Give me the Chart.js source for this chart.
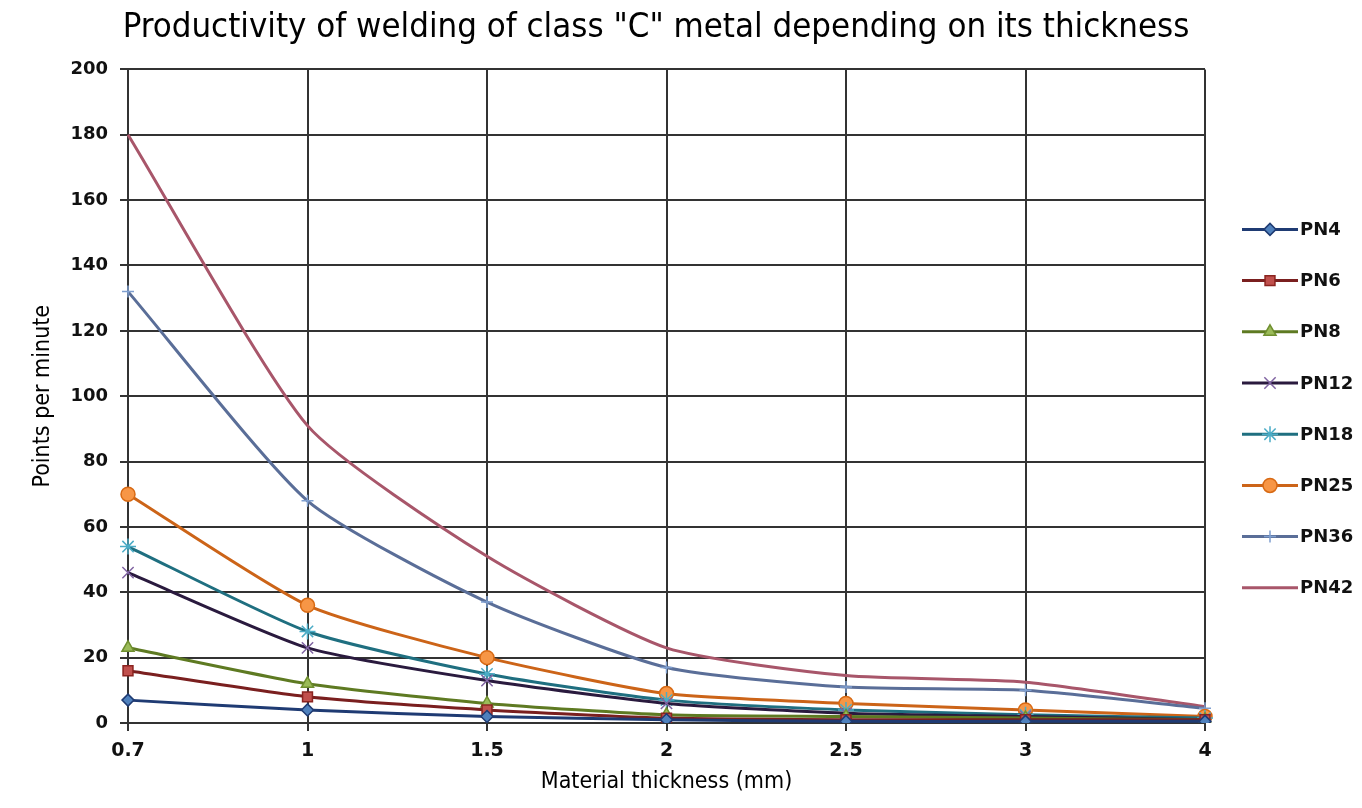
<!DOCTYPE html>
<html>
<head>
<meta charset="utf-8">
<script src="https://cdn.jsdelivr.net/npm/chart.js@4/dist/chart.umd.min.js"></script>
<style>
  html, body { margin: 0; padding: 0; background: #fff; }
  #wrap { width: 1362px; height: 808px; }
</style>
</head>
<body>
<div id="wrap"><canvas id="grafico" width="1362" height="808"></canvas></div>
<script>
const categorias = ['0.7', '1', '1.5', '2', '2.5', '3', '4'];
const pn4  = [7, 4, 2, 1, 0.5, 0.5, 0.5];
const pn6  = [16, 8, 4, 1.5, 1, 1, 1];
const pn8  = [23, 12, 6, 2.5, 2, 1.5, 1];
const pn12 = [46, 23, 13, 6, 3, 2, 1];
const pn18 = [54, 28, 15, 7, 4, 2.5, 1.5];
const pn25 = [70, 36, 20, 9, 6, 4, 2];
const pn36 = [132, 68, 37, 17, 11, 10, 4.5];
const pn42 = [180, 91, 51, 23, 14.5, 12.5, 5];
const yTicks = [0, 20, 40, 60, 80, 100, 120, 140, 160, 180, 200];

const series = [
  { label: 'PN4',  data: pn4,  line: '#1f3b73', fill: '#4f81bd', stroke: '#1f3b73', style: 'rectRot',  r: 6 },
  { label: 'PN6',  data: pn6,  line: '#7a1f1f', fill: '#c0504d', stroke: '#8b2420', style: 'rect',     r: 7 },
  { label: 'PN8',  data: pn8,  line: '#5e7a22', fill: '#9bbb59', stroke: '#6f8f2f', style: 'triangle', r: 7 },
  { label: 'PN12', data: pn12, line: '#2a1a3e', fill: '#8064a2', stroke: '#8064a2', style: 'crossRot', r: 8 },
  { label: 'PN18', data: pn18, line: '#1f6f80', fill: '#4bacc6', stroke: '#4bacc6', style: 'star',     r: 8 },
  { label: 'PN25', data: pn25, line: '#cc6418', fill: '#f79646', stroke: '#d86a14', style: 'circle',   r: 7 },
  { label: 'PN36', data: pn36, line: '#5a6e98', fill: '#7f9fcf', stroke: '#7f9fcf', style: 'cross',    r: 6 },
  { label: 'PN42', data: pn42, line: '#a8566a', fill: '#a8566a', stroke: '#a8566a', style: false,      r: 0 }
];

// legend drawn by hand: line segment + marker, like the original
const legendaLinha = {
  id: 'legendaLinha',
  afterDraw(chart) {
    const ctx = chart.ctx;
    const area = chart.chartArea;
    const x0 = area.right + 37;
    const y0 = area.top + 160;
    const passo = 51.2;
    ctx.save();
    chart.data.datasets.forEach((ds, i) => {
      const y = y0 + i * passo;
      ctx.strokeStyle = ds.borderColor;
      ctx.lineWidth = 3;
      ctx.beginPath();
      ctx.moveTo(x0, y);
      ctx.lineTo(x0 + 56, y);
      ctx.stroke();
      if (ds.pointStyle) {
        ctx.fillStyle = ds.pointBackgroundColor;
        ctx.strokeStyle = ds.pointBorderColor;
        ctx.lineWidth = 1.5;
        Chart.helpers.drawPoint(ctx, { pointStyle: ds.pointStyle, radius: ds.pointRadius, rotation: 0, borderWidth: 1.5 }, x0 + 28, y);
      }
      ctx.fillStyle = '#111';
      ctx.font = 'bold 18px "DejaVu Sans"';
      ctx.textBaseline = 'middle';
      ctx.textAlign = 'left';
      ctx.fillText(ds.label, x0 + 58, y + 1);
    });
    ctx.restore();
  }
};

function renderGrafico() {
  const ctx = document.getElementById('grafico');
  new Chart(ctx, {
    type: 'line',
    data: {
      labels: categorias,
      datasets: series.map(s => ({
        label: s.label,
        data: s.data,
        borderColor: s.line,
        borderWidth: 3,
        pointStyle: s.style,
        pointRadius: s.r,
        pointBackgroundColor: s.fill,
        pointBorderColor: s.stroke,
        pointBorderWidth: 1.5,
        tension: 0.2,
        fill: false
      }))
    },
    options: {
      responsive: false,
      animation: false,
      layout: { padding: { left: 0, right: 50, top: 0, bottom: 0 } },
      plugins: {
        legend: { display: false },
        tooltip: { enabled: false },
        title: {
          display: true,
          text: 'Productivity of welding of class "C" metal depending on its thickness',
          color: '#000',
          font: { family: '"DejaVu Sans Condensed"', size: 34.5, weight: 'normal', lineHeight: 1.2 },
          padding: { top: 7, bottom: 21 }
        }
      },
      scales: {
        x: {
          offset: false,
          grid: { color: '#333', lineWidth: 2, tickLength: 8, drawTicks: true },
          border: { color: '#333', width: 2 },
          ticks: {
            color: '#111',
            padding: 9,
            maxRotation: 0,
            font: { family: '"DejaVu Sans"', size: 19, weight: 'bold' }
          },
          title: {
            display: true,
            text: 'Material thickness (mm)',
            color: '#000',
            font: { family: '"DejaVu Sans Condensed"', size: 23, lineHeight: 1.2 },
            padding: { top: 0, bottom: 12 }
          },
          afterFit: s => { s.height = 85; }
        },
        y: {
          min: 0,
          max: 200,
          afterBuildTicks: s => { s.ticks = yTicks.map(v => ({ value: v })); },
          grid: { color: '#333', lineWidth: 2, tickLength: 8 },
          border: { color: '#333', width: 2 },
          ticks: {
            color: '#111',
            padding: 12,
            font: { family: '"DejaVu Sans"', size: 18, weight: 'bold' }
          },
          title: {
            display: true,
            text: 'Points per minute',
            color: '#000',
            font: { family: '"DejaVu Sans Condensed"', size: 23, lineHeight: 1.2 },
            padding: { top: 29, bottom: 0 }
          },
          afterFit: s => { s.width = 128; }
        },
        // empty right-hand axis that just reserves the legend column
        espaco: {
          position: 'right',
          display: true,
          grid: { display: false, drawTicks: false },
          border: { display: false },
          ticks: { display: false },
          afterFit: s => { s.width = 107; }
        }
      }
    },
    plugins: [legendaLinha]
  });
}

renderGrafico();
</script>
</body>
</html>
